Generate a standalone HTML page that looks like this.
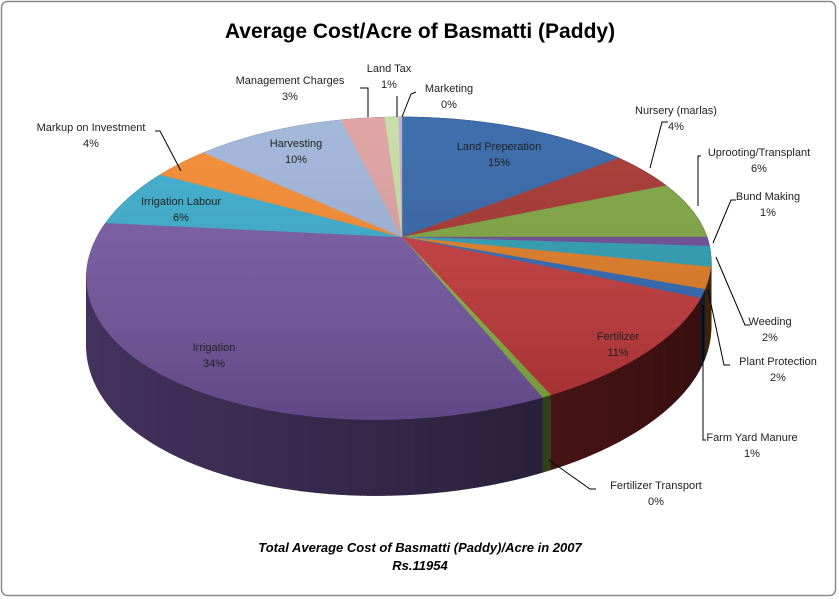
<!DOCTYPE html>
<html><head><meta charset="utf-8"><style>
html,body{margin:0;padding:0;background:#fff}
#wrap{position:relative;width:839px;height:599px;overflow:hidden;font-family:"Liberation Sans",sans-serif}
svg text{font-family:"Liberation Sans",sans-serif}
</style></head><body>
<div id="wrap">
<svg id="chart" width="839" height="599" viewBox="0 0 839 599">
<rect x="1.5" y="1.5" width="834" height="594" rx="6" fill="#fff" stroke="#8c8c8c" stroke-width="1.5"/>
<text x="420" y="38" text-anchor="middle" font-size="21" font-weight="bold" fill="#000">Average Cost/Acre  of Basmatti (Paddy)</text>
<g id="sides"></g><g id="tops"></g><g id="shade"></g><g id="leaders" stroke="#000" stroke-width="1" fill="none"></g><g id="labels" font-size="11" fill="#222"></g>
<text x="420" y="552" text-anchor="middle" font-size="13" font-weight="bold" font-style="italic">Total Average Cost of Basmatti (Paddy)/Acre in 2007</text>
<text x="420" y="570" text-anchor="middle" font-size="13" font-weight="bold" font-style="italic">Rs.11954</text>
</svg>
</div>
<script>
const categories=["Land Preperation","Nursery (marlas)","Uprooting/Transplant","Bund Making","Weeding","Plant Protection","Farm Yard Manure","Fertilizer","Fertilizer Transport","Irrigation","Irrigation Labour","Markup on Investment","Harvesting","Management Charges","Land Tax","Marketing"];
const values=[14.6,4.3,6.3,1.0,2.2,2.3,0.9,11.2,0.4,34.0,6.3,3.7,9.7,2.8,0.9,0.2];
const percentLabels=["15%","4%","6%","1%","2%","2%","1%","11%","0%","34%","6%","4%","10%","3%","1%","0%"];
const colors=["#2f62a6","#a3302c","#7ca33d","#6b4a96","#2b9db3","#e27b22","#2e67b3","#c5383a","#8bb443","#7557a2","#36aacb","#f5872b","#9db2d8","#dc9e9c","#c6dca2","#b9a9d0"];
// label layout (positions, not data)
const labelPos=[[499,150,1],[676,114,0],[759,156,0],[768,200,0],[770,325,0],[778,365,0],[752,441,0],[618,340,1],[656,489,0],[214,351,1],[181,205,1],[91,131,0],[296,147,1],[290,84,0],[389,72,0],[449,92,0]];
const leaderPaths=["","M650,168 L662,122 L668,122","M698,206 L698,156 L701,156","M713,243 L731,200 L736,200","M716,257 L745,325 L750,325","M708,290 L724,365 L730,365","M703,305 L703,440 L706,440","","M549,460 L590,489 L596,489","","","M181,171 L160,131 L155,131","","M368,117 L368,88 L360,88","M397,117 L397,96","M402,117 L411,94 L416,92"];

const total=values.reduce((a,b)=>a+b,0);
const svgNS="http://www.w3.org/2000/svg";
function cum(i){let s=0;for(let k=0;k<i;k++)s+=values[k];return s/total*2*Math.PI;}
const CX=402,CY=237,RX=305,RY=144.8,PB=0.207,SK=-13;
function proj(t,r){r=r===undefined?1:r;const X=r*Math.sin(t),Y=-r*Math.cos(t);const w=1-PB*Y;
  return[CX+RX*X/w+SK*Y*(Y+1),CY+RY*Y/w];}
const C=proj(0,0);
function depthAt(t){const Y=-Math.cos(t);return 66+10*Math.max(0,Y);}
function shade(hex,f){const n=parseInt(hex.slice(1),16);return"rgb("+[(n>>16)&255,(n>>8)&255,n&255].map(c=>Math.round(c*f)).join(",")+")";}
// sides
const quads=[];
const step=Math.PI/360;
for(let i=0;i<values.length;i++){
  const a=cum(i),b=cum(i+1);
  for(let t=a;t<b-1e-9;t+=step){const t2=Math.min(b,t+step);
    const p1=proj(t),p2=proj(t2);
    quads.push({i,p1,p2,d1:depthAt(t),d2:depthAt(t2),my:(p1[1]+p2[1])/2});}
}
quads.sort((q,r)=>q.my-r.my);
const sides=document.getElementById("sides");
quads.forEach(q=>{
  const {p1,p2,d1,d2}=q;
  const f=0.58-0.3*((p1[0]-88)/629);
  const col=shade(colors[q.i],Math.max(0.25,f));
  const el=document.createElementNS(svgNS,"polygon");
  el.setAttribute("points",`${p1[0]},${p1[1]} ${p2[0]},${p2[1]} ${p2[0]},${p2[1]+d2} ${p1[0]},${p1[1]+d1}`);
  el.setAttribute("fill",col);el.setAttribute("stroke",col);el.setAttribute("stroke-width","0.6");
  
  
  sides.appendChild(el);
});
// tops
const tops=document.getElementById("tops");
let outline=[];
for(let i=0;i<values.length;i++){
  const a=cum(i),b=cum(i+1);let pts=[C];
  const n=Math.max(2,Math.ceil((b-a)/step));
  for(let k=0;k<=n;k++){const p=proj(a+(b-a)*k/n);pts.push(p);outline.push(p);}
  const el=document.createElementNS(svgNS,"polygon");
  el.setAttribute("points",pts.map(p=>p.join(",")).join(" "));
  el.setAttribute("fill",colors[i]);el.setAttribute("stroke",colors[i]);el.setAttribute("stroke-width","0.4");
  
  
  tops.appendChild(el);
}
document.getElementById("shade").innerHTML='<defs><linearGradient id="tg" x1="0" y1="0" x2="0" y2="1"><stop offset="0" stop-color="#fff" stop-opacity="0.08"/><stop offset="1" stop-color="#000" stop-opacity="0.18"/></linearGradient></defs><polygon points="'+outline.map(p=>p.join(",")).join(" ")+'" fill="url(#tg)"/>';
// labels
const lg=document.getElementById("labels"),ld=document.getElementById("leaders");
for(let i=0;i<values.length;i++){
  const [x,y]=labelPos[i];
  const t=document.createElementNS(svgNS,"text");
  t.setAttribute("x",x);t.setAttribute("y",y);t.setAttribute("text-anchor","middle");
  t.innerHTML=`<tspan x="${x}">${categories[i]}</tspan><tspan x="${x}" dy="16">${percentLabels[i]}</tspan>`;
  
  
  lg.appendChild(t);
  if(leaderPaths[i]){const p=document.createElementNS(svgNS,"path");p.setAttribute("d",leaderPaths[i]);
    
    
    ld.appendChild(p);}
}
</script>
</body></html>
